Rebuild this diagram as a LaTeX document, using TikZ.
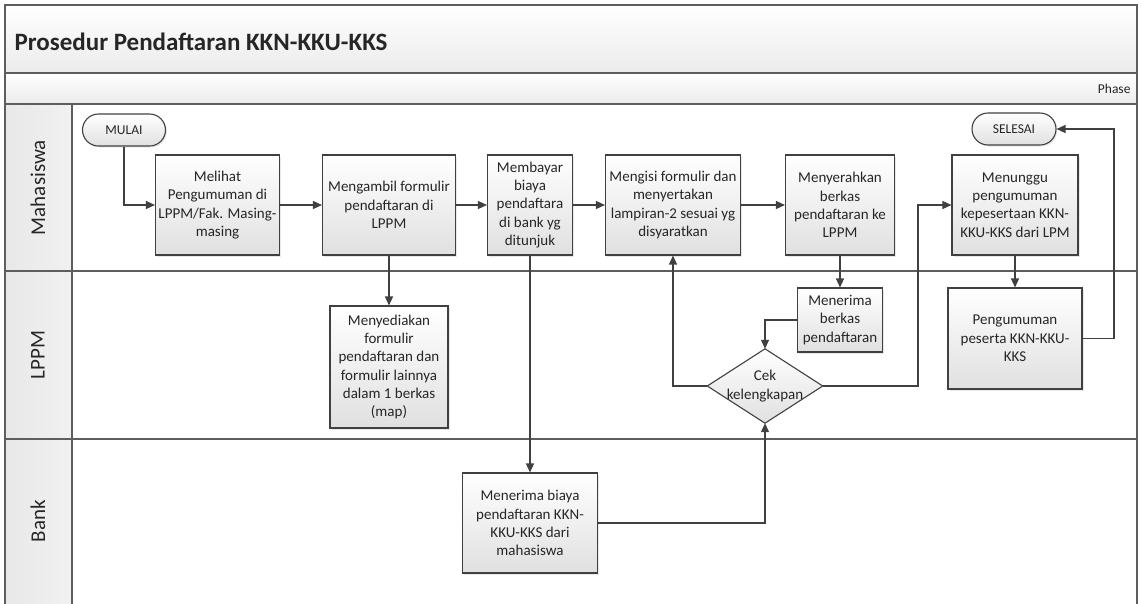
\documentclass[tikz,border=0pt]{standalone}
\usepackage{fontspec}
\setmainfont{Carlito}
\usetikzlibrary{arrows.meta,shadows,shapes.misc,backgrounds}

\definecolor{edge}{HTML}{404040}
\definecolor{frame}{HTML}{5E5E5E}
\definecolor{boxlow}{HTML}{E0E0E0}
\definecolor{ink}{HTML}{262626}
\definecolor{bandlow}{HTML}{EBEBEB}
\definecolor{lanecol}{HTML}{E8E8E8}

\tikzset{
  proc/.style={draw=edge, line width=1.1pt, top color=white, bottom color=boxlow,
    align=center, inner sep=0pt, text=ink, font=\fontsize{15}{18.3}\selectfont,
    drop shadow={opacity=0.18, shadow xshift=1.5pt, shadow yshift=-1.5pt}},
  term/.style={rounded rectangle, draw=edge, line width=1.1pt, top color=white, bottom color=boxlow,
    inner sep=0pt, text=ink, minimum height=32pt, font=\fontsize{13.5}{15}\selectfont,
    drop shadow={opacity=0.18, shadow xshift=1.5pt, shadow yshift=-1.5pt}},
  decision/.style={draw=edge, line width=1.1pt, top color=white, bottom color=boxlow},
  flow/.style={draw=edge, line width=1.3pt, -{Triangle[length=9pt,width=8pt]}},
  lanelabel/.style={rotate=90, text=ink, font=\fontsize{21}{24}\selectfont},
  frameline/.style={draw=frame, line width=1.3pt}
}

\begin{document}
\begin{tikzpicture}[x=1pt,y=-1pt]
  \useasboundingbox (0,0) rectangle (1142,603);

  % title band, phase row and lane header column
  \shade[top color=white, bottom color=bandlow] (5,5) rectangle (1137,73);
  \shade[top color=white, bottom color=bandlow] (5,73) rectangle (1137,104);
  \shade[left color=lanecol, right color=lanecol!60] (5,104) rectangle (72,610);
  \draw[frameline] (5,5) rectangle (1137,610);
  \draw[frameline] (5,73) -- (1137,73);
  \draw[frameline] (5,104) -- (1137,104);
  \draw[frameline] (5,271) -- (1137,271);
  \draw[frameline] (5,439) -- (1137,439);
  \draw[frameline] (72,104) -- (72,610);

  \node[anchor=base west, text=black!85, font=\bfseries\fontsize{25}{30}\selectfont] (title) at (11,50) {Prosedur Pendaftaran KKN-KKU-KKS};
  \node[anchor=base east, text=ink, font=\fontsize{13.5}{15}\selectfont] (phase) at (1134,93) {Phase};

  \node[lanelabel] (lmhs) at (38,187.5) {Mahasiswa};
  \node[lanelabel] (llppm) at (38,355) {LPPM};
  \node[lanelabel] (lbank) at (38,521) {Bank};

  % Mahasiswa lane
  \node[term, minimum width=83pt] (mulai) at (124,130) {MULAI};
  \node[term, minimum width=84pt] (selesai) at (1014,129) {SELESAI};
  \node[proc, minimum width=124pt, minimum height=100pt] (b1) at (217.5,205)
    {Melihat\\Pengumuman di\\LPPM/Fak. Masing-\\masing};
  \node[proc, minimum width=133pt, minimum height=100pt] (b2) at (389,205)
    {Mengambil formulir\\pendaftaran di\\LPPM};
  \node[proc, minimum width=85pt, minimum height=100pt] (b3) at (530,205)
    {Membayar\\biaya\\pendaftara\\di bank yg\\ditunjuk};
  \node[proc, minimum width=135pt, minimum height=100pt] (b4) at (673,205)
    {Mengisi formulir dan\\menyertakan\\lampiran-2 sesuai yg\\disyaratkan};
  \node[proc, minimum width=109pt, minimum height=100pt] (b5) at (840,205)
    {Menyerahkan\\berkas\\pendaftaran ke\\LPPM};
  \node[proc, minimum width=126pt, minimum height=100pt] (b6) at (1015,205)
    {Menunggu\\pengumuman\\kepesertaan KKN-\\KKU-KKS dari LPM};

  % LPPM lane
  \node[proc, minimum width=118pt, minimum height=122pt] (prep) at (389,367)
    {Menyediakan\\formulir\\pendaftaran dan\\formulir lainnya\\dalam 1 berkas\\(map)};
  \node[proc, minimum width=85pt, minimum height=64pt] (terima) at (840,320)
    {Menerima\\berkas\\pendaftaran};
  \node[align=center, inner sep=0pt, text=ink, font=\fontsize{15}{18.3}\selectfont,
        minimum width=115pt, minimum height=74pt] (cek) at (765,386) {Cek\\kelengkapan};
  \begin{pgfonlayer}{background}
    \path[decision] (cek.north) -- (cek.east) -- (cek.south) -- (cek.west) -- cycle;
  \end{pgfonlayer}
  \node[proc, minimum width=134pt, minimum height=101pt] (peng) at (1015,338.5)
    {Pengumuman\\peserta KKN-KKU-\\KKS};

  % Bank lane
  \node[proc, minimum width=135pt, minimum height=100pt] (bank) at (530,523)
    {Menerima biaya\\pendaftaran KKN-\\KKU-KKS dari\\mahasiswa};

  % connectors
  \coordinate (jr) at (918,386);
  \coordinate (jt) at (1114,129);
  \draw[flow] (mulai.south) |- (b1.west);
  \draw[flow] (b1.east) -- (b2.west);
  \draw[flow] (b2.east) -- (b3.west);
  \draw[flow] (b3.east) -- (b4.west);
  \draw[flow] (b4.east) -- (b5.west);
  \draw[flow] (b2.south) -- (prep.north);
  \draw[flow] (b3.south) -- (bank.north);
  \draw[flow] (b5.south) -- (terima.north);
  \draw[flow] (b6.south) -- (peng.north);
  \draw[flow] (bank.east) -| (cek.south);
  \draw[flow] (terima.west) -| (cek.north);
  \draw[flow] (cek.west) -| (b4.south);
  \draw[flow] (cek.east) -- (jr) |- (b6.west);
  \draw[flow] (peng.east) -| (jt) -- (selesai.east);
\end{tikzpicture}
\end{document}
